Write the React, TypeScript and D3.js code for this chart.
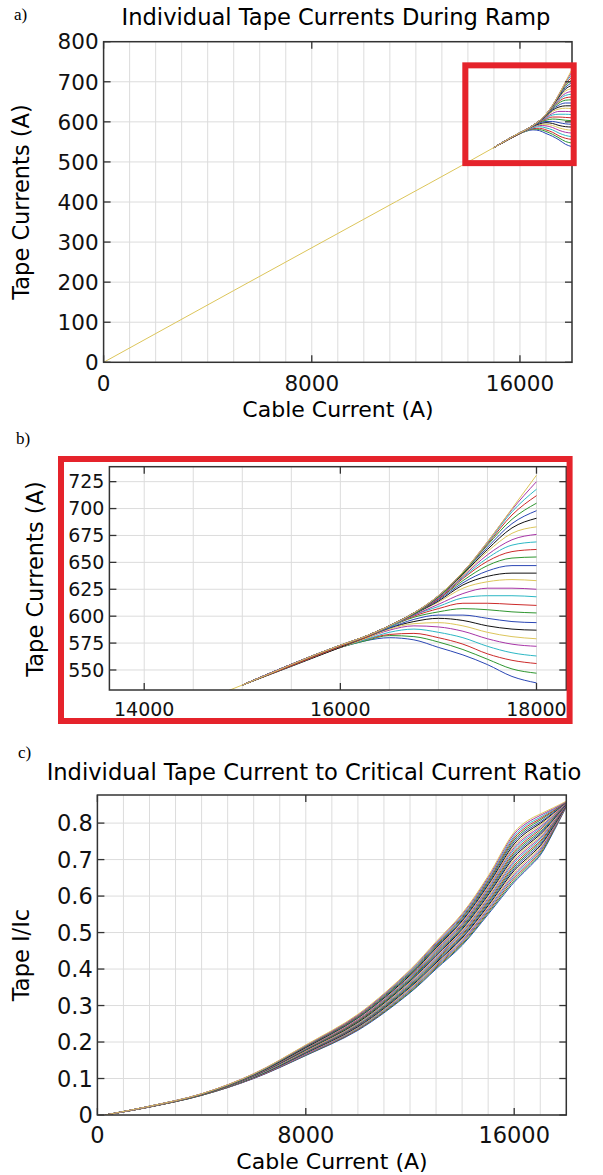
import React from 'react'
import * as d3 from 'd3'

type Pt = [number, number]

// shared part of the ramp: every tape carries the same current
const trunkCable = [0, 5000, 10000, 15000]
const trunkTape = [0, 179, 357, 536]

// cable current knots where the tapes split up
const splitCable = [16000, 16250, 16500, 16750, 17000, 17250, 17500, 17750, 18000]

// tape currents (A) at splitCable, lowest tape first
const tapeCurrents = [
	[571, 577, 580, 578, 571, 564, 555, 544, 538],
	[571, 577, 582, 581, 576, 569, 560, 551, 547],
	[571, 578, 583, 584, 580, 574, 565, 559, 556],
	[571, 578, 585, 588, 585, 580, 572, 566, 563],
	[571, 579, 587, 591, 590, 586, 579, 574, 572],
	[571, 579, 588, 593, 594, 591, 585, 581, 579],
	[571, 580, 589, 595, 598, 596, 591, 588, 587],
	[572, 580, 589, 597, 601, 601, 598, 595, 594],
	[572, 580, 590, 599, 604, 607, 606, 604, 603],
	[572, 580, 590, 600, 607, 612, 612, 611, 610],
	[572, 581, 590, 601, 609, 617, 619, 619, 618],
	[572, 581, 591, 601, 611, 621, 626, 626, 625],
	[572, 581, 591, 602, 613, 626, 632, 634, 633],
	[572, 581, 591, 602, 614, 629, 637, 640, 640],
	[572, 581, 591, 602, 615, 631, 642, 647, 647],
	[572, 581, 591, 602, 616, 633, 647, 654, 655],
	[572, 581, 591, 603, 616, 635, 651, 660, 662],
	[573, 581, 591, 603, 617, 636, 654, 666, 669],
	[573, 581, 591, 603, 617, 637, 657, 671, 676],
	[573, 581, 591, 603, 618, 638, 660, 677, 683],
	[573, 581, 591, 603, 618, 639, 662, 682, 691],
	[573, 581, 591, 603, 618, 640, 664, 686, 698],
	[573, 581, 591, 603, 618, 640, 666, 690, 705],
	[573, 581, 591, 603, 619, 641, 667, 694, 712],
	[573, 581, 591, 603, 619, 641, 668, 697, 718],
	[573, 581, 591, 603, 619, 641, 669, 699, 725],
	[573, 581, 591, 603, 619, 641, 669, 700, 731],
]

// cable current knots for the I/Ic plot
const ratioCable = [300, 2000, 4000, 6000, 8000, 10000, 12000, 13000, 14000, 15000, 16000, 16500, 17000, 17500, 18000]

// tape I/Ic at ratioCable
const tapeRatios = [
	[0, .022, .054, .100, .163, .232, .335, .400, .465, .550, .638, .674, .712, .775, .845],
	[0, .022, .054, .101, .164, .234, .337, .403, .468, .554, .643, .679, .716, .778, .846],
	[0, .022, .054, .101, .165, .235, .340, .406, .472, .558, .649, .684, .721, .780, .846],
	[0, .022, .054, .102, .166, .237, .342, .409, .475, .562, .654, .689, .725, .783, .847],
	[0, .022, .055, .102, .167, .239, .345, .412, .478, .566, .659, .694, .729, .785, .847],
	[0, .022, .055, .103, .169, .240, .347, .414, .482, .570, .664, .699, .734, .788, .848],
	[0, .022, .055, .103, .170, .242, .350, .417, .485, .574, .670, .704, .738, .790, .848],
	[0, .023, .055, .104, .171, .244, .352, .420, .488, .578, .675, .710, .742, .793, .849],
	[0, .023, .055, .104, .172, .246, .354, .423, .492, .582, .680, .715, .747, .796, .850],
	[0, .023, .055, .105, .173, .247, .357, .426, .495, .586, .685, .720, .751, .798, .850],
	[0, .023, .056, .105, .174, .249, .359, .429, .499, .590, .691, .725, .756, .801, .851],
	[0, .023, .056, .106, .175, .251, .362, .432, .502, .594, .696, .730, .760, .803, .851],
	[0, .023, .056, .106, .176, .252, .364, .435, .505, .598, .701, .735, .764, .806, .852],
	[0, .023, .056, .107, .178, .254, .367, .437, .509, .603, .707, .740, .769, .809, .852],
	[0, .023, .056, .107, .179, .256, .369, .440, .512, .607, .712, .745, .773, .811, .853],
	[0, .023, .056, .108, .180, .257, .371, .443, .515, .611, .717, .750, .777, .814, .854],
	[0, .023, .056, .108, .181, .259, .374, .446, .519, .615, .722, .755, .782, .816, .854],
	[0, .023, .057, .109, .182, .261, .376, .449, .522, .619, .728, .760, .786, .819, .855],
	[0, .023, .057, .109, .183, .262, .379, .452, .525, .623, .733, .765, .790, .821, .855],
	[0, .023, .057, .110, .184, .264, .381, .455, .529, .627, .738, .770, .795, .824, .856],
	[0, .024, .057, .110, .185, .266, .383, .458, .532, .631, .743, .776, .799, .827, .857],
	[0, .024, .057, .111, .187, .267, .386, .460, .535, .635, .749, .781, .803, .829, .857],
	[0, .024, .057, .111, .188, .269, .388, .463, .539, .639, .754, .786, .808, .832, .858],
	[0, .024, .058, .112, .189, .271, .391, .466, .542, .643, .759, .791, .812, .834, .858],
	[0, .024, .058, .112, .190, .273, .393, .469, .545, .647, .764, .796, .816, .837, .859],
	[0, .024, .058, .113, .191, .274, .396, .472, .549, .651, .770, .801, .821, .839, .859],
	[0, .024, .058, .113, .192, .276, .398, .475, .552, .655, .775, .806, .825, .842, .860],
]

// ticks
const xTicksFull = [0, 8000, 16000]
const yTicksA = [0, 100, 200, 300, 400, 500, 600, 700, 800]
const xTicksB = [14000, 16000, 18000]
const yTicksB = [550, 575, 600, 625, 650, 675, 700, 725]
const yTicksC = [0, 0.1, 0.2, 0.3, 0.4, 0.5, 0.6, 0.7, 0.8]
const yLabelsC = ['0', '0.1', '0.2', '0.3', '0.4', '0.5', '0.6', '0.7', '0.8']

// zoomed region marked in panel a (data coords)
const zoomBox = { x0: 13900, x1: 18065, y0: 497, y1: 741 }

const lineColors = ['#2a46b4', '#2f962f', '#cc2a2a', '#2cb7c4', '#a836a8', '#dcc55a', '#111111']
const FONT = "'DejaVu Sans', Verdana, sans-serif"
const SERIF = "'Liberation Serif', 'Times New Roman', serif"
const RED = '#e5232b'

function Panel(props: {
	id: string, left: number, right: number, top: number, bottom: number,
	xDomain: [number, number], yDomain: [number, number],
	xGrid: number[], yGrid: number[], xTicks: number[], yTicks: number[],
	yLabels?: string[], series: Pt[][], fontSize: number,
	xLabelBase: number, yLabelRight: number, box?: typeof zoomBox,
	sharedUntil?: number, curve?: d3.CurveFactory,
}) {
	const { id, left, right, top, bottom, xGrid, yGrid, xTicks, yTicks, series, fontSize } = props
	const x = d3.scaleLinear().domain(props.xDomain).range([left, right])
	const y = d3.scaleLinear().domain(props.yDomain).range([bottom, top])
	const line = d3.line<Pt>().x(d => x(d[0])).y(d => y(d[1])).curve(props.curve || d3.curveMonotoneX)
	const tk = 7
	const last = series.length - 1
	// the common trunk is only drawn by the last (top) tape, like the original plot
	const shown = series.map((s, i) =>
		props.sharedUntil !== undefined && i < last ? s.filter(d => d[0] >= props.sharedUntil!) : s)
	return (
		<g>
			<defs>
				<clipPath id={id}>
					<rect x={left} y={top} width={right - left} height={bottom - top} />
				</clipPath>
			</defs>
			{/* grid */}
			<g stroke="#dcdcdc" strokeWidth={1}>
				{xGrid.map(v => <line key={'gx' + v} x1={x(v)} x2={x(v)} y1={top} y2={bottom} />)}
				{yGrid.map(v => <line key={'gy' + v} x1={left} x2={right} y1={y(v)} y2={y(v)} />)}
			</g>
			{/* tape lines */}
			<g clipPath={`url(#${id})`} fill="none" strokeWidth={1}>
				{shown.map((s, i) => <path key={i} d={line(s) || ''} stroke={lineColors[i % lineColors.length]} />)}
			</g>
			{/* inward ticks */}
			<g stroke="#333" strokeWidth={1.3}>
				{xTicks.map(v => (
					<g key={'tx' + v}>
						<line x1={x(v)} x2={x(v)} y1={bottom} y2={bottom - tk} />
						<line x1={x(v)} x2={x(v)} y1={top} y2={top + tk} />
					</g>
				))}
				{yTicks.map(v => (
					<g key={'ty' + v}>
						<line x1={left} x2={left + tk} y1={y(v)} y2={y(v)} />
						<line x1={right} x2={right - tk} y1={y(v)} y2={y(v)} />
					</g>
				))}
			</g>
			<rect x={left} y={top} width={right - left} height={bottom - top} fill="none" stroke="#333" strokeWidth={1.5} />
			{/* tick labels */}
			<g fontSize={fontSize} fill="#111">
				{xTicks.map(v => (
					<text key={'lx' + v} x={x(v)} y={props.xLabelBase} textAnchor="middle">{v}</text>
				))}
				{yTicks.map((v, i) => (
					<text key={'ly' + v} x={props.yLabelRight} y={y(v) + 0.36 * fontSize} textAnchor="end">
						{props.yLabels ? props.yLabels[i] : v}
					</text>
				))}
			</g>
			{props.box && (
				<rect x={x(props.box.x0)} y={y(props.box.y1)}
					width={x(props.box.x1) - x(props.box.x0)} height={y(props.box.y0) - y(props.box.y1)}
					fill="none" stroke={RED} strokeWidth={6} />
			)}
		</g>
	)
}

export default function App() {
	const currentSeries: Pt[][] = tapeCurrents.map(row => [
		...trunkCable.map((c, i) => [c, trunkTape[i]] as Pt),
		...splitCable.map((c, i) => [c, row[i]] as Pt),
	])
	const ratioSeries: Pt[][] = tapeRatios.map(row => ratioCable.map((c, i) => [c, row[i]] as Pt))

	return (
		<div style={{ position: 'absolute', left: 0, top: 0 }}>
			<svg width={603} height={1175} style={{ display: 'block', background: '#fff' }} fontFamily={FONT}>
				{/* a) */}
				<text x={14} y={20} fontFamily={SERIF} fontSize={17}>a)</text>
				<text x={336} y={25} fontSize={22.6} textAnchor="middle">Individual Tape Currents During Ramp</text>
				<Panel id="clipA" left={103.6} right={572} top={41.7} bottom={362.3}
					xDomain={[0, 18000]} yDomain={[0, 800]}
					xGrid={d3.range(0, 18001, 1000)} yGrid={yTicksA}
					xTicks={xTicksFull} yTicks={yTicksA} series={currentSeries} sharedUntil={15000}
					fontSize={21.5} xLabelBase={391} yLabelRight={98.6} box={zoomBox} />
				<text transform="translate(29,202) rotate(-90)" fontSize={22.5} textAnchor="middle">Tape Currents (A)</text>
				<text x={338} y={417} fontSize={22} textAnchor="middle">Cable Current (A)</text>

				{/* b) */}
				<text x={16} y={444} fontFamily={SERIF} fontSize={17}>b)</text>
				<Panel id="clipB" left={109.4} right={566.3} top={466.7} bottom={690}
					xDomain={[13645, 18304]} yDomain={[531.4, 738.9]}
					xGrid={d3.range(14000, 18001, 500)} yGrid={yTicksB}
					xTicks={xTicksB} yTicks={yTicksB} series={currentSeries} sharedUntil={15000}
					fontSize={19} xLabelBase={716} yLabelRight={104.4} />
				<text transform="translate(43,579) rotate(-90)" fontSize={22.5} textAnchor="middle">Tape Currents (A)</text>
				<rect x={61} y={459} width={508.6} height={262} fill="none" stroke={RED} strokeWidth={6} />

				{/* c) */}
				<text x={18} y={758} fontFamily={SERIF} fontSize={17}>c)</text>
				<text x={314} y={780} fontSize={22.6} textAnchor="middle">Individual Tape Current to Critical Current Ratio</text>
				<Panel id="clipC" left={97.4} right={566.3} top={795} bottom={1115}
					xDomain={[0, 18000]} yDomain={[0, 0.877]}
					xGrid={d3.range(0, 18001, 1000)} yGrid={yTicksC}
					xTicks={xTicksFull} yTicks={yTicksC} yLabels={yLabelsC} series={ratioSeries}
					curve={d3.curveCatmullRom.alpha(0.5)}
					fontSize={22.5} xLabelBase={1143} yLabelRight={92.8} />
				<text transform="translate(29,955) rotate(-90)" fontSize={22.5} textAnchor="middle">Tape I/Ic</text>
				<text x={332} y={1169} fontSize={22} textAnchor="middle">Cable Current (A)</text>
			</svg>
		</div>
	)
}
